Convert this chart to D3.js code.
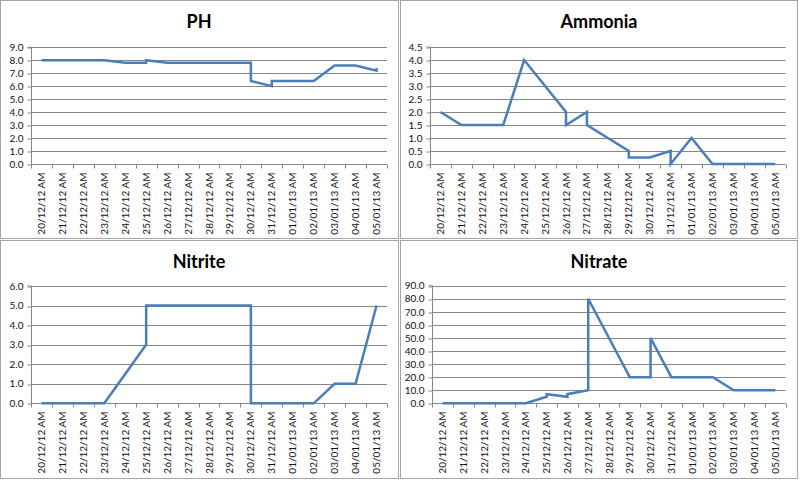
<!DOCTYPE html>
<html>
<head>
<meta charset="utf-8">
<script src="https://cdn.jsdelivr.net/npm/d3@7"></script>
<style>
  html, body { margin: 0; padding: 0; background: #fff; }
  svg { display: block; }
</style>
</head>
<body>
<svg id="chart" width="800" height="480"></svg>
<script>
// ---- data ----
const dates = ["20/12/12 AM","21/12/12 AM","22/12/12 AM","23/12/12 AM","24/12/12 AM","25/12/12 AM",
  "26/12/12 AM","27/12/12 AM","28/12/12 AM","29/12/12 AM","30/12/12 AM","31/12/12 AM",
  "01/01/13 AM","02/01/13 AM","03/01/13 AM","04/01/13 AM","05/01/13 AM"];

const phDay   = [0,1,2,3,4,5,5,6,7,8,9,10,10,11,11,12,13,14,15,16,16];
const phValue = [8.0,8.0,8.0,8.0,7.8,7.8,8.0,7.8,7.8,7.8,7.8,7.8,6.4,6.0,6.4,6.4,6.4,7.6,7.6,7.2,7.4];

const ammoniaDay   = [0,1,2,3,4,5,6,6,7,7,8,9,9,10,11,11,12,13,14,15,16];
const ammoniaValue = [2.0,1.5,1.5,1.5,4.0,3.0,2.0,1.5,2.0,1.5,1.0,0.5,0.25,0.25,0.5,0.0,1.0,0.0,0.0,0.0,0.0];

const nitriteDay   = [0,1,2,3,4,5,5,6,7,8,9,10,10,11,12,13,14,15,16];
const nitriteValue = [0,0,0,0,1.5,3.0,5.0,5.0,5.0,5.0,5.0,5.0,0,0,0,0,1.0,1.0,5.0];

const nitrateDay   = [0,1,2,3,4,5,5,6,6,7,7,8,9,10,10,11,12,13,14,15,16];
const nitrateValue = [0,0,0,0,0,5,7,5,7,10,80,50,20,20,50,20,20,20,10,10,10];

const titles = ["PH","Ammonia","Nitrite","Nitrate"];
const yMaxes = [9, 4.5, 6, 90];
const ySteps = [1, 0.5, 1, 10];

// ---- drawing ----
const svg = d3.select("#chart");
const FONT = "Lato, 'Open Sans', sans-serif";
const LINE_COLOR = "#4a7ebb";
const GRID_COLOR = "#868686";
const BORDER_COLOR = "#a6a6a6";

const panels = [
  {x0: 0,   y0: 0,   w: 398, h: 238, left: 31,   right: 387,   top: 47.3, bottom: 164,   day: phDay,      val: phValue},
  {x0: 400, y0: 0,   w: 397, h: 238, left: 30,   right: 385.7, top: 47,   bottom: 164,   day: ammoniaDay, val: ammoniaValue},
  {x0: 0,   y0: 240, w: 398, h: 238, left: 31,   right: 387,   top: 46,   bottom: 163.3, day: nitriteDay, val: nitriteValue},
  {x0: 400, y0: 240, w: 397, h: 238, left: 32.3, right: 385.7, top: 45.7, bottom: 163.3, day: nitrateDay, val: nitrateValue}
];

panels.forEach((p, k) => {
  const g = svg.append("g").attr("transform", `translate(${p.x0},${p.y0})`);

  // panel border
  g.append("rect")
    .attr("x", 0.5).attr("y", 0.5)
    .attr("width", p.w).attr("height", p.h)
    .attr("fill", "#fff").attr("stroke", BORDER_COLOR).attr("stroke-width", 1);

  // title
  g.append("text")
    .attr("x", 199).attr("y", 28)
    .attr("text-anchor", "middle")
    .attr("font-family", FONT).attr("font-weight", "bold").attr("font-size", 18)
    .attr("fill", "#000")
    .text(titles[k]);

  const x = d3.scaleBand().domain(dates).range([p.left, p.right]).paddingInner(0).paddingOuter(0);
  const y = d3.scaleLinear().domain([0, yMaxes[k]]).range([p.bottom, p.top]);
  const yTicks = d3.range(0, yMaxes[k] + ySteps[k] / 2, ySteps[k]);

  // gridlines
  g.append("g").selectAll("line").data(yTicks.filter(v => v > 0)).join("line")
    .attr("x1", p.left).attr("x2", p.right)
    .attr("y1", d => Math.round(y(d)) + 0.5).attr("y2", d => Math.round(y(d)) + 0.5)
    .attr("stroke", GRID_COLOR).attr("stroke-width", 1);

  // y axis
  const yAxis = d3.axisLeft(y).tickValues(yTicks).tickSize(4).tickPadding(4)
    .tickFormat(d3.format(".1f"));
  const ya = g.append("g").attr("transform", `translate(${Math.round(p.left) + 0.5},0)`).call(yAxis);
  ya.select(".domain").attr("stroke", GRID_COLOR).attr("d", `M-4,${p.top}H0V${p.bottom}`);
  ya.selectAll(".tick line").attr("stroke", GRID_COLOR)
    .attr("transform", d => `translate(0,${Math.round(y(d)) + 0.5 - y(d)})`);
  ya.selectAll(".tick text").attr("font-family", FONT).attr("font-size", 10).attr("fill", "#111");

  // x axis line
  const by = Math.round(p.bottom) + 0.5;
  g.append("line").attr("x1", p.left).attr("x2", p.right).attr("y1", by).attr("y2", by)
    .attr("stroke", GRID_COLOR).attr("stroke-width", 1);
  // x tick marks at day boundaries
  const bounds = dates.map(d => x(d)).concat([p.right]);
  g.append("g").selectAll("line").data(bounds).join("line")
    .attr("x1", d => Math.round(d) + 0.5).attr("x2", d => Math.round(d) + 0.5)
    .attr("y1", by).attr("y2", by + 4)
    .attr("stroke", GRID_COLOR);

  // x labels (rotated)
  const xAxis = d3.axisBottom(x).tickSize(0).tickPadding(0);
  const xa = g.append("g").attr("transform", `translate(0,${by})`).call(xAxis);
  xa.select(".domain").remove();
  xa.selectAll(".tick text")
    .attr("font-family", FONT).attr("font-size", 10).attr("fill", "#111")
    .attr("text-anchor", "end")
    .attr("dy", "0.35em")
    .attr("transform", "translate(0,8) rotate(-90)")
    .attr("x", 0).attr("y", 0);

  // series line
  const pts = p.day.map((d, i) => [x(dates[d]) + x.bandwidth() / 2, y(p.val[i])]);
  g.append("path")
    .attr("d", d3.line()(pts))
    .attr("fill", "none")
    .attr("stroke", LINE_COLOR)
    .attr("stroke-width", 2.5)
    .attr("stroke-linejoin", "miter");
});
</script>
</body>
</html>
